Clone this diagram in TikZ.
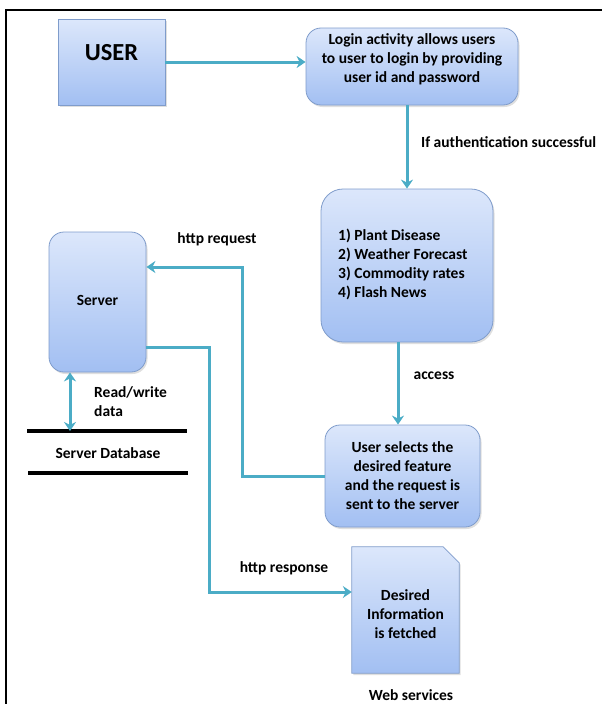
\documentclass[tikz,border=0pt]{standalone}
\usepackage{fontspec}
\setmainfont{Carlito}
\usetikzlibrary{arrows.meta,shadows,calc}
\definecolor{arr}{HTML}{4BACC6}
\definecolor{btop}{HTML}{DCE7FB}
\definecolor{bbot}{HTML}{A2BFF2}
\definecolor{bline}{HTML}{7F9CCB}
\begin{document}
\begin{tikzpicture}[x=1pt,y=-1pt,
  >={Stealth[length=9pt,width=12pt,inset=3pt]},
  box/.style={draw=bline, line width=0.8pt, top color=btop, bottom color=bbot,
    drop shadow={opacity=0.25,shadow xshift=1.5pt,shadow yshift=-2pt}, inner sep=0pt},
  txt/.style={font=\fontsize{15.5}{19}\selectfont\bfseries, inner sep=0pt, align=center},
  flow/.style={draw=arr, line width=3pt, ->},
  dbline/.style={draw=black, line width=4pt},
  frame/.style={draw=black, line width=2pt},
]
\useasboundingbox (0,0) rectangle (602,704);
% frame
\coordinate (fbl) at (6,704);
\coordinate (ftl) at (6,9.5);
\coordinate (ftr) at (602,9.5);
\draw[frame] (fbl) -- (ftl) -- (ftr);

% boxes
\node[box, minimum width=107pt, minimum height=86pt] (user) at (111.5,62) {};
\node[txt, font=\fontsize{24.5}{29}\selectfont\bfseries] (usert) at (111.5,53) {USER};

\node[box, rounded corners=15pt, minimum width=212pt, minimum height=77pt] (login) at (412,66.5) {};
\node[txt] (logint) at (412,59.5) {Login activity allows users\\to user to login by providing\\user id and password};

\node[box, rounded corners=22pt, minimum width=172pt, minimum height=153pt] (feat) at (407,265.5) {};
\node[txt, align=left, anchor=west] (featt) at (338,264) {1) Plant Disease\\2) Weather Forecast\\3) Commodity rates\\4) Flash News};

\node[box, rounded corners=15pt, minimum width=155pt, minimum height=102pt] (sel) at (402.5,476) {};
\node[txt] (selt) at (402.5,475.5) {User selects the\\desired feature\\and the request is\\sent to the server};

\node[box, rounded corners=15pt, minimum width=97pt, minimum height=140pt] (server) at (97.5,302) {};
\node[txt] (servert) at (97.5,300) {Server};

\node[minimum width=107pt, minimum height=126pt, inner sep=0pt] (doc) at (405.5,610) {};
\path[box] (doc.north west) -- ($(doc.north east)+(-16,0)$) -- ($(doc.north east)+(0,16)$)
  -- (doc.south east) -- (doc.south west) -- cycle;
\node[txt] (doct) at (405.5,614) {Desired\\Information\\is fetched};

% database
\node[txt] (db) at (108,453) {Server Database};
\draw[dbline] ($(db)+(-81,-22)$) -- ($(db)+(79,-22)$);
\draw[dbline] ($(db)+(-80,20)$) -- ($(db)+(80,20)$);

% connectors
\draw[flow] (user.east) -- (user.east -| login.west);
\draw[flow] (login.south -| feat.north) -- (feat.north);
\coordinate (acc) at (398,0);
\draw[flow] (feat.south -| acc) -- (sel.north -| acc);
\coordinate (rq) at (242,267);
\draw[flow] (sel.west) -| (rq) -- (rq -| server.east);
\coordinate (rs1) at (209,347);
\coordinate (rs2) at (209,592);
\draw[flow] (rs1 -| server.east) -- (rs1) -- (rs2) -- (rs2 -| doc.west);
\coordinate (rw) at (70,431);
\draw[flow, <->] (server.south -| rw) -- (rw);

% labels
\node[txt] (lreq) at (217,239) {http request};
\node[txt, anchor=west] (lauth) at (421,142) {If authentication successful};
\node[txt] (lacc) at (434,376) {access};
\node[txt, align=left, anchor=west] (lrw) at (94,402) {Read/write\\data};
\node[txt] (lres) at (284,568) {http response};
\node[txt] (lweb) at (411,695) {Web services};
\end{tikzpicture}
\end{document}
